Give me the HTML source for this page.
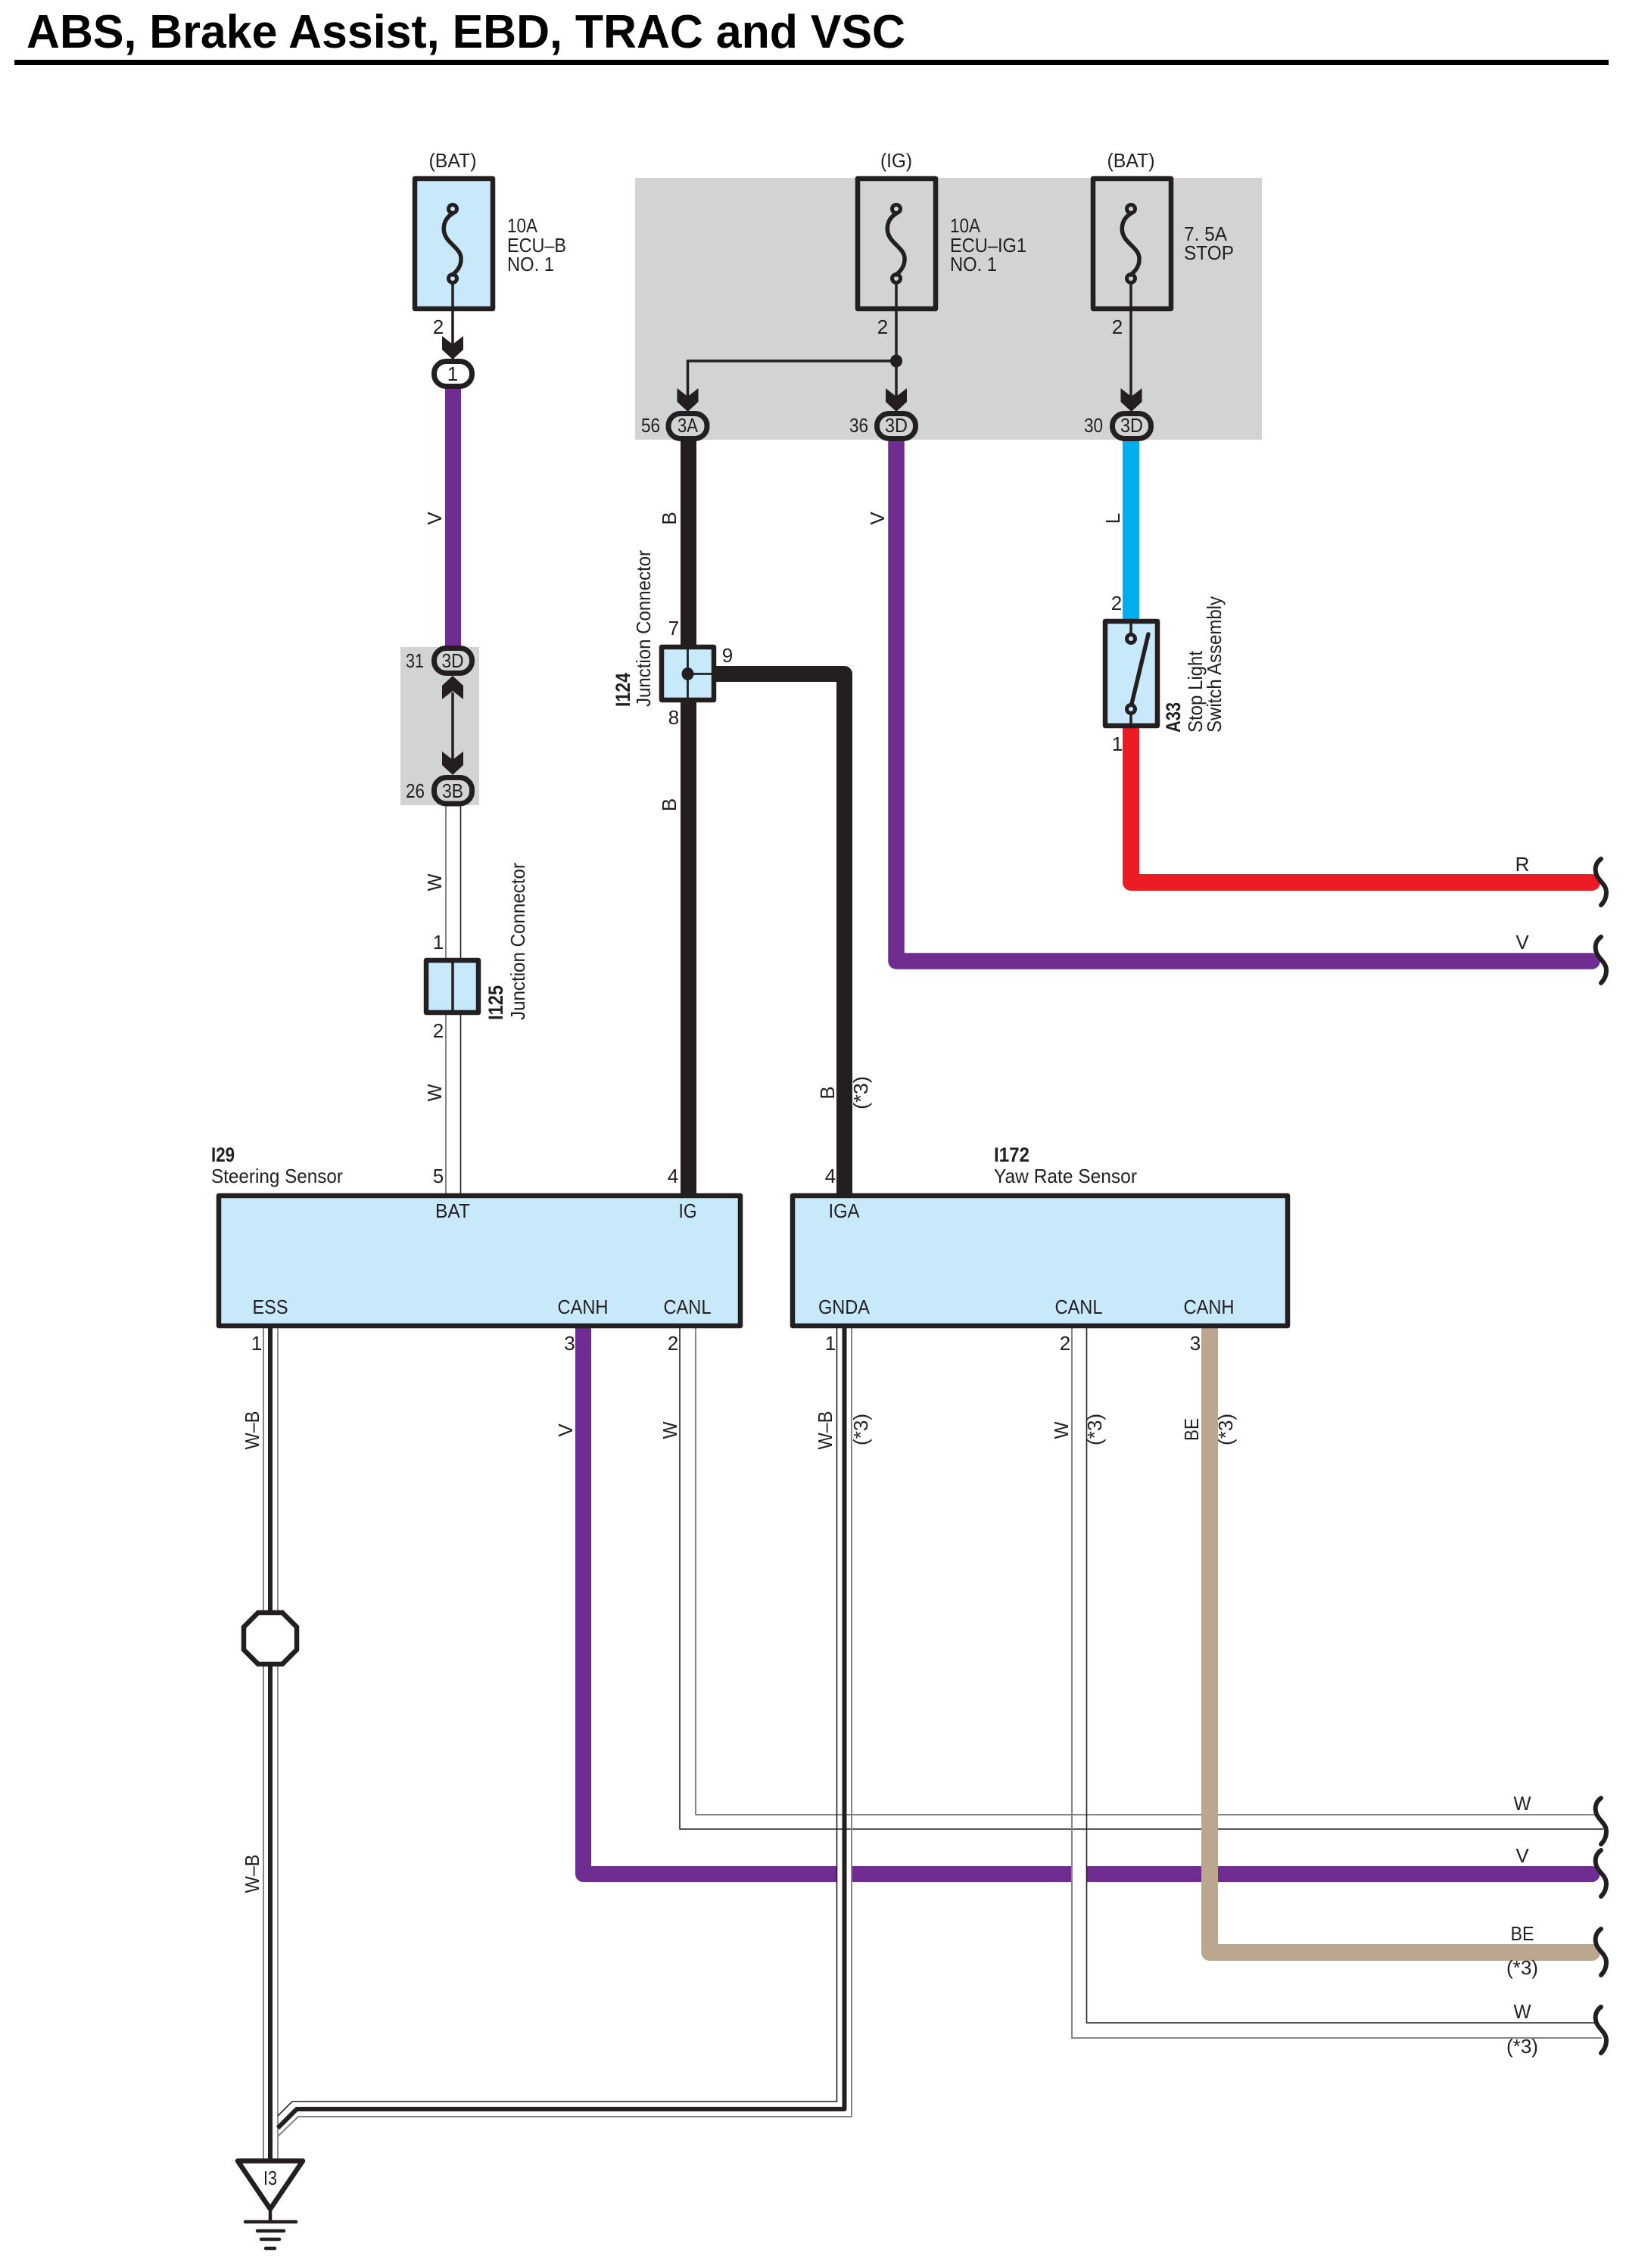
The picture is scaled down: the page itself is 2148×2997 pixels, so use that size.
<!DOCTYPE html>
<html><head><meta charset="utf-8"><title>ABS, Brake Assist, EBD, TRAC and VSC</title>
<style>
html,body{margin:0;padding:0;background:#fff}
svg{display:block}
text{font-family:"Liberation Sans",sans-serif;font-size:26px;fill:#231f20}
.b{font-weight:bold;font-size:27px}
.m{text-anchor:middle}
.w{fill:none;stroke-linecap:round;stroke-linejoin:round}
.g{fill:none;stroke:#858585;stroke-width:2}
.d{fill:none;stroke:#231f20;stroke-width:1.6}
.k{fill:none;stroke:#231f20;stroke-linejoin:round}
.box{stroke:#231f20;stroke-width:6.5;stroke-linejoin:round}
.pill{stroke:#231f20;stroke-width:7}
.sq{fill:none;stroke:#231f20;stroke-width:6;stroke-linecap:round}
</style></head><body>
<svg xmlns="http://www.w3.org/2000/svg" width="2148" height="2997" viewBox="0 0 2148 2997">
<defs>
<polygon id="ah" points="-14,-31 0,-20 14,-31 14,-13 0,0 -14,-13" fill="#231f20"/>
<path id="fg" d="M0 6C-13 14-15 29-7 40C1 50 12 56 11 67C11 76 6 82 0 87" fill="none" stroke="#231f20" stroke-width="5.5" stroke-linecap="round"/>
<path id="sq" d="M8 2C1 7-1 15 2 23C5 31 15 36 15 46C15 54 12 59 8 63" class="sq"/>
</defs>
<rect width="2148" height="2997" fill="#fff"/>

<!-- Title -->
<text x="35" y="63" class="b" style="font-size:62px;fill:#000" textLength="1161" lengthAdjust="spacingAndGlyphs">ABS, Brake Assist, EBD, TRAC and VSC</text>
<rect x="19" y="79" width="2106" height="7" fill="#000"/>

<!-- Grey areas -->
<rect x="839" y="235" width="828" height="346" fill="#d1d3d4"/>
<rect x="529" y="855" width="104" height="209" fill="#d1d3d4"/>

<!-- Thin white wires -->
<path class="g" d="M589 1064V1577"/><path class="d" d="M608.5 1064V1577"/>
<!-- Purple horizontal + vertical (CANH) -->
<path class="w" stroke="#6f2c91" stroke-width="21" d="M770.5 1755V2476.5H2103"/>
<!-- gaps over purple -->
<rect x="1106" y="2460" width="19" height="34" fill="#fff"/>
<rect x="1417" y="2460" width="18" height="34" fill="#fff"/>
<!-- W wires -->
<path class="g" style="stroke-linejoin:round" d="M919 1755V2398H2109"/>
<path class="d" style="stroke-linejoin:round" d="M898 1755V2417H2118"/>
<path class="g" d="M1416 1755V2693H2116"/>
<path class="d" d="M1435.5 1755V2673H2110"/>
<!-- Tan -->
<path class="w" stroke="#bba690" stroke-width="22" d="M1598 1755V2580H2103"/>
<!-- W-B left -->
<path class="g" d="M348 1755V2855"/><path class="d" style="stroke:#777" d="M367 1755V2855"/>
<path class="k" stroke-width="6" d="M357 1755V2855"/>
<!-- W-B right -->
<path class="d" d="M1105.5 1755V2777H386L367 2796"/>
<path class="k" stroke-width="6" d="M1115.5 1755V2787H392L367 2812"/>
<path class="g" d="M1125 1755V2797H394L367 2823"/>

<!-- Main power wires -->
<path class="w" style="stroke-linecap:butt" stroke="#6f2c91" stroke-width="21" d="M598.5 510V860"/>
<path class="k" style="stroke-linejoin:round" stroke-width="21" d="M909.5 580V1580"/>
<path class="k" stroke-width="21" d="M930 890.5H1115.5V1580"/>
<path class="w" stroke="#6f2c91" stroke-width="21.5" d="M1184 578V1270H2103"/>
<path fill="none" stroke="#00aeef" stroke-width="22" d="M1494 578V822"/>
<path class="w" stroke="#ed1c24" stroke-width="22" d="M1494 960V1166H2103"/>

<!-- Fuses -->
<rect class="box" x="548" y="236" width="103" height="172" fill="#c7e9fa"/>
<rect class="box" x="1133" y="236" width="103" height="172" fill="#d1d3d4"/>
<rect class="box" x="1444" y="236" width="103" height="172" fill="#d1d3d4"/>
<g id="f1"><circle cx="598" cy="276" r="5.5" fill="none" stroke="#231f20" stroke-width="5"/><circle cx="598" cy="368" r="5.5" fill="none" stroke="#231f20" stroke-width="5"/><use href="#fg" x="598" y="276"/></g>
<use href="#f1" x="586"/><use href="#f1" x="896"/>

<path class="k" stroke-width="3.5" d="M598 374V460"/>
<path class="k" stroke-width="3.5" d="M1184 374V530"/>
<path class="k" stroke-width="3.5" d="M1494 374V530"/>
<path class="k" stroke-width="3.5" d="M1184 477H908.5V530"/>
<ellipse cx="1184" cy="477" rx="8" ry="8.5" fill="#231f20"/>
<use href="#ah" x="598" y="475"/>
<use href="#ah" x="908.5" y="544"/>
<use href="#ah" x="1184" y="544"/>
<use href="#ah" x="1494.5" y="544"/>

<!-- Pills -->
<rect class="pill" x="573.5" y="477.5" width="50" height="33" rx="16" fill="#fff"/>
<rect class="pill" x="883" y="546.5" width="51" height="33" rx="16" fill="#d1d3d4"/>
<rect class="pill" x="1158.5" y="546.5" width="51" height="33" rx="16" fill="#d1d3d4"/>
<rect class="pill" x="1469.5" y="546.5" width="51" height="33" rx="16" fill="#d1d3d4"/>
<rect class="pill" x="573.5" y="856.5" width="50" height="33" rx="16" fill="#d1d3d4"/>
<rect class="pill" x="573.5" y="1027.5" width="50" height="34.5" rx="16" fill="#d1d3d4"/>

<!-- double arrow -->
<path class="k" stroke-width="3.5" d="M598 915V1005"/>
<g transform="translate(598,893) scale(1,-1)"><use href="#ah"/></g>
<use href="#ah" x="598" y="1024"/>

<!-- I125 -->
<rect class="box" x="563" y="1269" width="69" height="69" fill="#c7e9fa"/>
<path class="k" stroke-width="3.5" d="M598 1266V1341"/>
<!-- I124 -->
<rect class="box" x="874" y="855" width="69" height="70" fill="#c7e9fa"/>
<path class="k" stroke-width="2.8" d="M908.5 852V928M908.5 890.5H946"/>
<ellipse cx="908.5" cy="890.5" rx="8" ry="8.5" fill="#231f20"/>

<!-- Switch -->
<rect class="box" x="1460" y="821" width="69" height="138" fill="#c7e9fa"/>
<path class="k" stroke-width="3.5" d="M1494 821V837M1494 945V959"/>
<circle cx="1494" cy="844" r="5.5" fill="none" stroke="#231f20" stroke-width="5"/>
<circle cx="1494" cy="937" r="5.5" fill="none" stroke="#231f20" stroke-width="5"/>
<path class="k" stroke-width="5.5" stroke-linecap="round" d="M1495 930L1517 838"/>

<!-- Component boxes -->
<rect class="box" x="289" y="1580" width="689" height="172" fill="#c7e9fa"/>
<rect class="box" x="1047" y="1580" width="654" height="172" fill="#c7e9fa"/>

<!-- Splice -->
<polygon points="341,2131 373,2131 392,2150 392,2180 373,2199 341,2199 322,2180 322,2150" fill="#fff" stroke="#231f20" stroke-width="6.5"/>

<!-- Ground -->
<polygon points="314,2855.5 400,2855.5 357,2919" fill="#fff" stroke="#231f20" stroke-width="6.5" stroke-linejoin="round"/>
<path d="M357 2919V2936M324 2936H391M340 2948H375M345 2959H369M351 2971H363" fill="none" stroke="#231f20" stroke-width="4.5" stroke-linecap="round"/>

<!-- Squiggles -->
<use href="#sq" x="2107" y="1133"/><use href="#sq" x="2107" y="1236"/>
<use href="#sq" x="2107" y="2374"/><use href="#sq" x="2107" y="2443"/>
<use href="#sq" x="2107" y="2547"/><use href="#sq" x="2107" y="2650"/>

<!-- Fuse labels -->
<text x="598" y="221" class="m" textLength="63" lengthAdjust="spacingAndGlyphs">(BAT)</text>
<text x="1184" y="221" class="m" textLength="42" lengthAdjust="spacingAndGlyphs">(IG)</text>
<text x="1494" y="221" class="m" textLength="63" lengthAdjust="spacingAndGlyphs">(BAT)</text>
<text x="670" y="307" textLength="40" lengthAdjust="spacingAndGlyphs">10A</text>
<text x="670" y="333" textLength="78" lengthAdjust="spacingAndGlyphs">ECU–B</text>
<text x="670" y="358" textLength="62" lengthAdjust="spacingAndGlyphs">NO. 1</text>
<text x="1255" y="307" textLength="40" lengthAdjust="spacingAndGlyphs">10A</text>
<text x="1255" y="333" textLength="101" lengthAdjust="spacingAndGlyphs">ECU–IG1</text>
<text x="1255" y="358" textLength="62" lengthAdjust="spacingAndGlyphs">NO. 1</text>
<text x="1564" y="318" textLength="57" lengthAdjust="spacingAndGlyphs">7. 5A</text>
<text x="1564" y="343" textLength="66" lengthAdjust="spacingAndGlyphs">STOP</text>
<text x="579" y="441" class="m">2</text><text x="1166" y="441" class="m">2</text><text x="1476" y="441" class="m">2</text>

<!-- Pill labels -->
<text x="598" y="503" class="m">1</text>
<text x="908.5" y="571" class="m" textLength="27" lengthAdjust="spacingAndGlyphs">3A</text>
<text x="1184" y="571" class="m" textLength="30" lengthAdjust="spacingAndGlyphs">3D</text>
<text x="1495" y="571" class="m" textLength="30" lengthAdjust="spacingAndGlyphs">3D</text>
<text x="598" y="882" class="m" textLength="29" lengthAdjust="spacingAndGlyphs">3D</text>
<text x="598" y="1054" class="m" textLength="28" lengthAdjust="spacingAndGlyphs">3B</text>
<text x="847" y="571" textLength="25" lengthAdjust="spacingAndGlyphs">56</text>
<text x="1122" y="571" textLength="25" lengthAdjust="spacingAndGlyphs">36</text>
<text x="1432" y="571" textLength="25" lengthAdjust="spacingAndGlyphs">30</text>
<text x="536" y="882" textLength="24" lengthAdjust="spacingAndGlyphs">31</text>
<text x="536" y="1054" textLength="25" lengthAdjust="spacingAndGlyphs">26</text>

<!-- Pin numbers -->
<text x="579" y="1254" class="m">1</text><text x="579" y="1371" class="m">2</text>
<text x="890" y="839" class="m">7</text><text x="890" y="957" class="m">8</text><text x="961" y="875" class="m">9</text>
<text x="1475" y="806" class="m">2</text><text x="1476" y="992" class="m">1</text>
<text x="579" y="1563" class="m">5</text><text x="889" y="1563" class="m">4</text><text x="1097" y="1563" class="m">4</text>
<text x="339" y="1784" class="m">1</text><text x="752.5" y="1784" class="m">3</text><text x="889" y="1784" class="m">2</text>
<text x="1097" y="1784" class="m">1</text><text x="1407" y="1784" class="m">2</text><text x="1579" y="1784" class="m">3</text>

<!-- Component text -->
<text x="279" y="1535" class="b" textLength="31" lengthAdjust="spacingAndGlyphs">I29</text>
<text x="279" y="1563" textLength="174" lengthAdjust="spacingAndGlyphs">Steering Sensor</text>
<text x="1313" y="1535" class="b" textLength="47" lengthAdjust="spacingAndGlyphs">I172</text>
<text x="1313" y="1563" textLength="189" lengthAdjust="spacingAndGlyphs">Yaw Rate Sensor</text>
<text x="598" y="1609" class="m" textLength="46" lengthAdjust="spacingAndGlyphs">BAT</text>
<text x="908.5" y="1609" class="m" textLength="24" lengthAdjust="spacingAndGlyphs">IG</text>
<text x="1115" y="1609" class="m" textLength="41" lengthAdjust="spacingAndGlyphs">IGA</text>
<text x="357" y="1736" class="m" textLength="47" lengthAdjust="spacingAndGlyphs">ESS</text>
<text x="770" y="1736" class="m" textLength="67" lengthAdjust="spacingAndGlyphs">CANH</text>
<text x="908" y="1736" class="m" textLength="63" lengthAdjust="spacingAndGlyphs">CANL</text>
<text x="1115" y="1736" class="m" textLength="68" lengthAdjust="spacingAndGlyphs">GNDA</text>
<text x="1425" y="1736" class="m" textLength="63" lengthAdjust="spacingAndGlyphs">CANL</text>
<text x="1597" y="1736" class="m" textLength="67" lengthAdjust="spacingAndGlyphs">CANH</text>
<text x="357" y="2887" class="m" textLength="18" lengthAdjust="spacingAndGlyphs">I3</text>

<!-- Rotated component labels -->
<text transform="translate(664,1348) rotate(-90)" class="b" textLength="46" lengthAdjust="spacingAndGlyphs">I125</text>
<text transform="translate(693,1348) rotate(-90)" textLength="208" lengthAdjust="spacingAndGlyphs">Junction Connector</text>
<text transform="translate(832,934) rotate(-90)" class="b" textLength="45" lengthAdjust="spacingAndGlyphs">I124</text>
<text transform="translate(859,934) rotate(-90)" textLength="207" lengthAdjust="spacingAndGlyphs">Junction Connector</text>
<text transform="translate(1559,968) rotate(-90)" class="b" textLength="40" lengthAdjust="spacingAndGlyphs">A33</text>
<text transform="translate(1588,968) rotate(-90)" textLength="108" lengthAdjust="spacingAndGlyphs">Stop Light</text>
<text transform="translate(1613,968) rotate(-90)" textLength="180" lengthAdjust="spacingAndGlyphs">Switch Assembly</text>

<!-- Rotated wire labels -->
<text transform="translate(583,685) rotate(-90)" class="m">V</text>
<text transform="translate(893,685) rotate(-90)" class="m">B</text>
<text transform="translate(1168,685) rotate(-90)" class="m">V</text>
<text transform="translate(1479,685) rotate(-90)" class="m">L</text>
<text transform="translate(893,1063.5) rotate(-90)" class="m">B</text>
<text transform="translate(583,1166) rotate(-90)" class="m" textLength="23" lengthAdjust="spacingAndGlyphs">W</text>
<text transform="translate(583,1444) rotate(-90)" class="m" textLength="23" lengthAdjust="spacingAndGlyphs">W</text>
<text transform="translate(1102,1444) rotate(-90)" class="m">B</text>
<text transform="translate(1146,1444) rotate(-90)" class="m" textLength="44" lengthAdjust="spacingAndGlyphs">(*3)</text>
<text transform="translate(342,1890) rotate(-90)" class="m" textLength="51" lengthAdjust="spacingAndGlyphs">W–B</text>
<text transform="translate(342,2476) rotate(-90)" class="m" textLength="51" lengthAdjust="spacingAndGlyphs">W–B</text>
<text transform="translate(756,1890) rotate(-90)" class="m">V</text>
<text transform="translate(894,1890) rotate(-90)" class="m" textLength="23" lengthAdjust="spacingAndGlyphs">W</text>
<text transform="translate(1099,1890) rotate(-90)" class="m" textLength="51" lengthAdjust="spacingAndGlyphs">W–B</text>
<text transform="translate(1146,1889) rotate(-90)" class="m" textLength="42" lengthAdjust="spacingAndGlyphs">(*3)</text>
<text transform="translate(1411,1890) rotate(-90)" class="m" textLength="23" lengthAdjust="spacingAndGlyphs">W</text>
<text transform="translate(1455,1889) rotate(-90)" class="m" textLength="42" lengthAdjust="spacingAndGlyphs">(*3)</text>
<text transform="translate(1583,1889) rotate(-90)" class="m" textLength="30" lengthAdjust="spacingAndGlyphs">BE</text>
<text transform="translate(1628,1889) rotate(-90)" class="m" textLength="42" lengthAdjust="spacingAndGlyphs">(*3)</text>

<!-- Right side labels -->
<text x="2011" y="1151" class="m">R</text>
<text x="2011" y="1254" class="m">V</text>
<text x="2011" y="2392" class="m" textLength="23" lengthAdjust="spacingAndGlyphs">W</text>
<text x="2011" y="2461" class="m">V</text>
<text x="2011" y="2564" class="m" textLength="31" lengthAdjust="spacingAndGlyphs">BE</text>
<text x="2011" y="2609" class="m" textLength="42" lengthAdjust="spacingAndGlyphs">(*3)</text>
<text x="2011" y="2667" class="m" textLength="23" lengthAdjust="spacingAndGlyphs">W</text>
<text x="2011" y="2713" class="m" textLength="42" lengthAdjust="spacingAndGlyphs">(*3)</text>
</svg>
</body></html>
